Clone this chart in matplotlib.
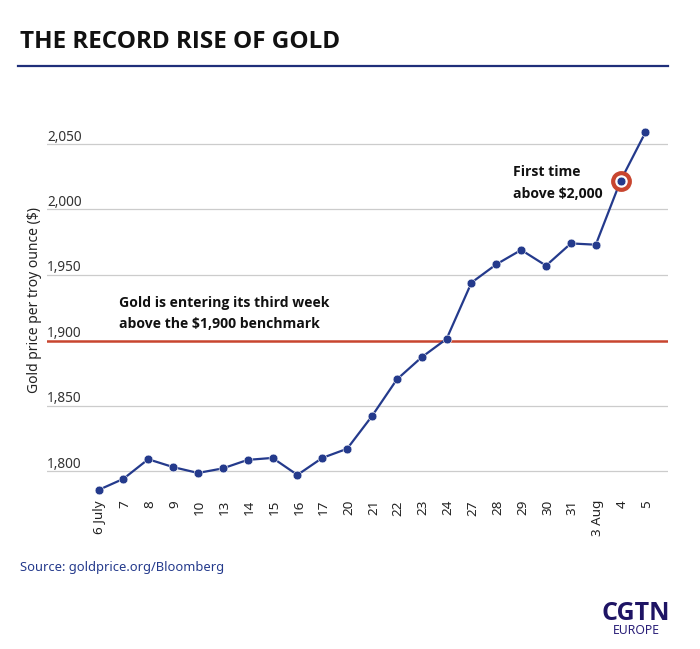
import numpy as np
import matplotlib
matplotlib.use('Agg')
import matplotlib.pyplot as plt
from matplotlib.lines import Line2D
from matplotlib.transforms import ScaledTranslation

plt.rcParams['font.family'] = ['Noto Sans', 'DejaVu Sans']
bold_font = ['Open Sans', 'DejaVu Sans']

days = ['6 July', '7', '8', '9', '10', '13', '14', '15', '16', '17', '20', '21',
        '22', '23', '24', '27', '28', '29', '30', '31', '3 Aug', '4', '5']
price = [1785.5, 1794, 1809, 1803, 1798.5, 1802, 1808.5, 1810, 1797, 1810, 1817, 1842,
         1870, 1887, 1901, 1944, 1958, 1969, 1957, 1974, 1973, 2022, 2059]
yticks = [1800, 1850, 1900, 1950, 2000, 2050]

navy = '#243a8c'
red = '#c8452f'
W, H = 700, 649

fig = plt.figure(figsize=(7, 6.49), dpi=100)

# axes box in pixels, left/right/top/bottom
left, right, top, bottom = 47, 668, 100, 500
ax = fig.add_axes([left/W, 1-bottom/H, (right-left)/W, (bottom-top)/H])
x = np.arange(len(days))
step = (645.5-98.5)/22
ax.set_xlim((left-98.5)/step, (right-98.5)/step)
px = 65.4/50
ax.set_ylim(1800-(bottom-471)/px, 1800+(471-top)/px)

for s in ax.spines.values():
    s.set_visible(False)
for v in yticks:
    if v != 1900:
        ax.axhline(v, color='#cccccc', lw=0.9, zorder=1)
    ax.text(0, v-0.5, f'{v:,}', transform=ax.get_yaxis_transform(), fontsize=9.8,
            color='#333333', ha='left', va='bottom', zorder=5)
ax.axhline(1899.5, color=red, lw=1.8, zorder=2)

ax.plot(x, price, color=navy, lw=1.6, zorder=3)
ax.plot(x[21], price[21], 'o', ms=12, mfc='white', mec=red, mew=3, zorder=4)
ax.plot(x, price, 'o', color=navy, ms=6.3, mec='white', mew=0.4, zorder=5)

ax.set_yticks([])
ax.set_xticks(x)
ax.set_xticklabels(days, rotation=90, fontsize=9.7, color='#222222', ha='center')
ax.tick_params(axis='x', length=0, pad=0)
# nudge the date labels a little to the right
shift = ScaledTranslation(1.5/100, 0, fig.dpi_scale_trans)
for lab in ax.get_xticklabels():
    lab.set_transform(lab.get_transform() + shift)

notes = [(119, 302.5, 'Gold is entering its third week'),
         (119, 324.5, 'above the $1,900 benchmark'),
         (513, 171.5, 'First time'),
         (513, 193.5, 'above $2,000')]
for nx, ny, txt in notes:
    fig.text(nx/W, 1-ny/H, txt, fontsize=10.1, fontweight='bold', family=bold_font,
             color='#111111', va='center')

fig.text(34.5/W, 1-300/H, 'Gold price per troy ounce ($)', rotation=90, fontsize=10,
         color='#222222', ha='center', va='center')
fig.text(20/W, 1-42/H, 'THE RECORD RISE OF GOLD', fontsize=17.45, fontweight='bold',
         family=bold_font, color='#111111', va='center')
fig.add_artist(Line2D([18/W, 668/W], [1-66/H, 1-66/H], color='#1f2f7a', lw=1.6))
fig.text(20/W, 1-567/H, 'Source: goldprice.org/Bloomberg', fontsize=9.3, color=navy, va='center')

# logo
fig.text(635.5/W, 1-613/H, 'CGTN', fontsize=18, fontweight='bold', color='#1e1464',
         ha='center', va='center', family=bold_font)
fig.text(636/W, 1-631/H, 'EUROPE', fontsize=8.8, color='#2a1f78', ha='center', va='center')

fig.savefig('out.png', dpi=100)
